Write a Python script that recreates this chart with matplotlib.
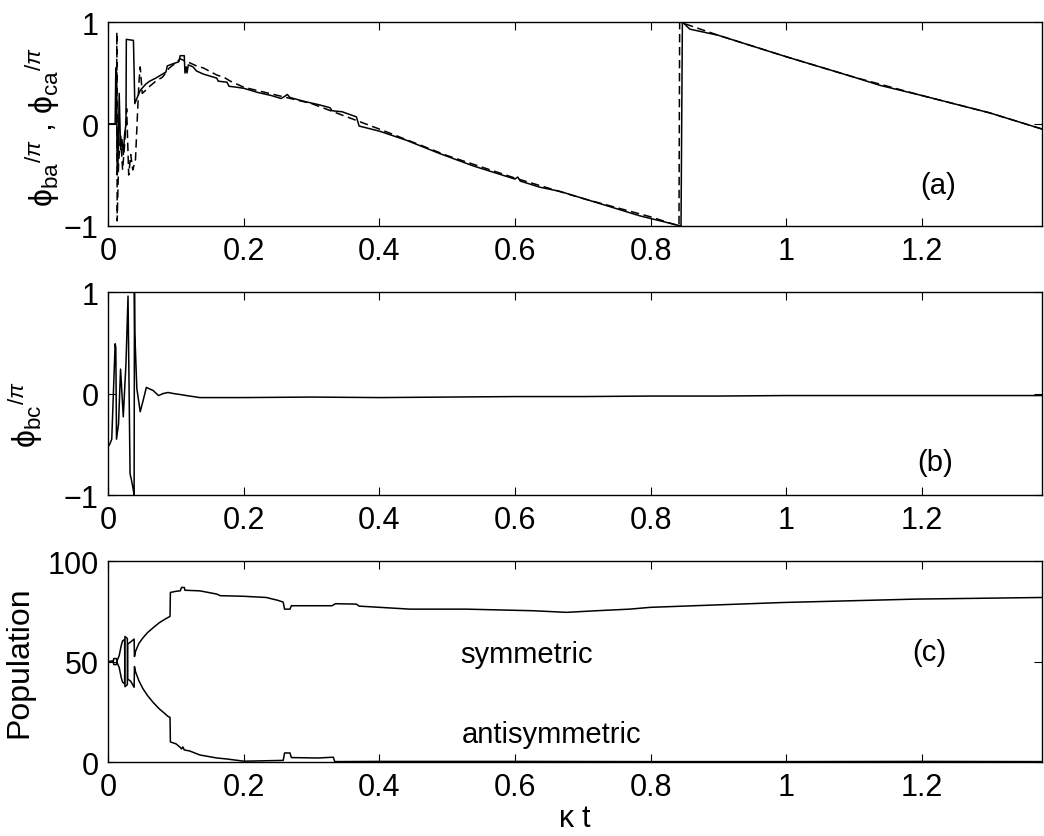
import matplotlib
matplotlib.use("Agg")
import matplotlib.pyplot as plt

plt.rcParams['font.family'] = ['Liberation Sans', 'DejaVu Sans']
plt.rcParams['mathtext.fontset'] = 'custom'
plt.rcParams['mathtext.rm'] = 'Liberation Sans'
plt.rcParams['mathtext.it'] = 'Liberation Sans:italic'
plt.rcParams['mathtext.sf'] = 'Liberation Sans'

# --- (a) relative phases phi_ba (solid) and phi_ca (dashed), in units of pi
t_ba = [0.0, 0.010, 0.011, 0.012, 0.013, 0.014, 0.016, 0.018, 0.020, 0.022,
        0.024, 0.026, 0.0265, 0.037, 0.039, 0.042, 0.047, 0.055, 0.061, 0.070,
        0.080, 0.085, 0.087, 0.095, 0.104, 0.106, 0.112, 0.113, 0.115, 0.116,
        0.118, 0.125, 0.130, 0.140, 0.150, 0.160, 0.162, 0.175, 0.178, 0.190,
        0.200, 0.220, 0.240, 0.255, 0.260, 0.264, 0.268, 0.290, 0.310, 0.327,
        0.330, 0.345, 0.366, 0.370, 0.400, 0.440, 0.489, 0.538, 0.600, 0.604,
        0.608, 0.637, 0.666, 0.735, 0.784, 0.845, 0.847, 0.858, 0.900, 1.000,
        1.100, 1.138, 1.200, 1.300, 1.378]
phi_ba = [0.0, 0.0, 0.55, 0.50, -0.50, -0.45, 0.30, -0.25, -0.15, -0.30,
          -0.10, 0.0, 0.83, 0.82, 0.20, 0.25, 0.33, 0.39, 0.42, 0.45,
          0.49, 0.51, 0.57, 0.59, 0.61, 0.67, 0.67, 0.50, 0.56, 0.50,
          0.58, 0.56, 0.52, 0.49, 0.47, 0.45, 0.42, 0.41, 0.37, 0.36,
          0.35, 0.31, 0.28, 0.25, 0.27, 0.29, 0.26, 0.22, 0.19, 0.16,
          0.13, 0.12, 0.07, -0.02, -0.07, -0.16, -0.29, -0.41, -0.54, -0.52,
          -0.56, -0.62, -0.66, -0.80, -0.90, -1.0, 1.0, 0.93, 0.87, 0.66,
          0.46, 0.38, 0.28, 0.11, -0.05]

t_ca = [0.0, 0.012, 0.0125, 0.013, 0.015, 0.018, 0.021, 0.024, 0.027, 0.030,
        0.033, 0.036, 0.040, 0.043, 0.045, 0.047, 0.050, 0.055, 0.061, 0.070,
        0.080, 0.090, 0.100, 0.106, 0.112, 0.120, 0.130, 0.140, 0.160, 0.170,
        0.180, 0.190, 0.200, 0.300, 0.400, 0.500, 0.600, 0.700, 0.800, 0.842,
        0.843, 0.900, 1.000, 1.100, 1.200, 1.300, 1.378]
phi_ca = [0.0, 0.0, 0.9, -0.95, -0.40, -0.10, -0.45, -0.20, 0.15, -0.50,
          -0.30, -0.45, -0.35, 0.10, 0.40, 0.56, 0.30, 0.33, 0.37, 0.42,
          0.46, 0.55, 0.60, 0.64, 0.62, 0.60, 0.57, 0.55, 0.48, 0.46,
          0.42, 0.39, 0.36, 0.20, -0.05, -0.31, -0.53, -0.73, -0.91, -1.0,
          1.0, 0.87, 0.66, 0.46, 0.28, 0.11, -0.05]

# --- (b) phi_bc / pi
t_bc = [0.0, 0.002, 0.005, 0.010, 0.011, 0.012, 0.015, 0.018, 0.022, 0.026,
        0.029, 0.032, 0.034, 0.036, 0.038, 0.0385, 0.039, 0.042, 0.047, 0.052,
        0.056, 0.066, 0.074, 0.081, 0.088, 0.096, 0.106, 0.115, 0.135, 0.165,
        0.200, 0.300, 0.400, 0.500, 0.600, 0.700, 0.800, 0.900, 1.000, 1.100,
        1.200, 1.300, 1.378]
phi_bc = [-0.52, -0.50, -0.45, 0.49, 0.45, -0.45, -0.30, 0.24, -0.23, 0.30,
          0.96, -0.79, -0.85, -0.92, -1.0, 1.0, 0.60, 0.05, -0.18, -0.05,
          0.06, 0.03, -0.02, 0.0, 0.01, 0.0, -0.01, -0.02, -0.04, -0.04,
          -0.04, -0.035, -0.04, -0.035, -0.03, -0.03, -0.025, -0.025, -0.02, -0.02,
          -0.02, -0.02, -0.02]

# --- (c) populations (%)
t_sym = [0.0, 0.007, 0.008, 0.012, 0.013, 0.016, 0.019, 0.021, 0.024, 0.0245,
         0.028, 0.0285, 0.033, 0.038, 0.0385, 0.040, 0.045, 0.051, 0.058, 0.066,
         0.075, 0.083, 0.091, 0.0915, 0.100, 0.106, 0.108, 0.112, 0.113, 0.135,
         0.160, 0.165, 0.200, 0.233, 0.250, 0.258, 0.260, 0.268, 0.270, 0.330,
         0.335, 0.366, 0.370, 0.445, 0.528, 0.627, 0.676, 0.720, 0.769, 0.800,
         0.995, 1.192, 1.378]
pop_sym = [50.0, 50.4, 48.5, 48.5, 50.5, 53.0, 58.0, 60.3, 61.0, 37.5,
           38.5, 58.7, 59.8, 61.2, 52.5, 55.0, 59.0, 61.8, 64.5, 66.8,
           69.3, 71.0, 72.5, 84.4, 85.0, 85.2, 86.9, 86.9, 85.5, 85.2,
           83.6, 82.8, 82.5, 81.9, 80.5, 79.6, 76.1, 76.1, 77.8, 77.8,
           78.8, 78.6, 77.6, 76.1, 76.1, 75.3, 74.5, 75.3, 76.1, 77.0,
           79.4, 81.1, 81.9]

t_anti = [0.0, 0.007, 0.008, 0.012, 0.013, 0.016, 0.019, 0.021, 0.024, 0.0245,
          0.028, 0.0285, 0.033, 0.038, 0.0385, 0.040, 0.045, 0.051, 0.058, 0.066,
          0.075, 0.083, 0.088, 0.091, 0.0915, 0.100, 0.106, 0.108, 0.110, 0.112,
          0.120, 0.135, 0.160, 0.175, 0.200, 0.258, 0.260, 0.268, 0.270, 0.310,
          0.332, 0.334, 0.400, 0.600, 0.800, 1.000, 1.200, 1.378]
pop_anti = [50.0, 49.6, 51.5, 51.5, 49.5, 47.0, 42.0, 39.7, 39.0, 62.5,
            61.5, 41.3, 40.2, 37.2, 47.5, 45.0, 40.5, 36.5, 33.0, 29.7,
            26.5, 24.2, 22.7, 22.2, 10.0, 9.0, 7.3, 6.5, 7.5, 6.0,
            5.5, 3.5, 2.0, 1.5, 0.4, 0.8, 4.5, 4.5, 2.2, 2.0,
            2.4, 0.2, 0.3, 0.3, 0.2, 0.2, 0.3, 0.2]

x_ticks = [0, 0.2, 0.4, 0.6, 0.8, 1.0, 1.2]
x_tick_labels = ['0', '0.2', '0.4', '0.6', '0.8', '1', '1.2']
t_max = 1.378

fig = plt.figure(figsize=(10.44, 8.37), dpi=100)
ax_a = fig.add_axes([0.1038, 0.7288, 0.8945, 0.2437])
ax_b = fig.add_axes([0.1038, 0.4074, 0.8945, 0.2425])
ax_c = fig.add_axes([0.1038, 0.0884, 0.8945, 0.2400])


def matlab_axes(ax, yticks, ylabels):
    ax.set_xlim(0, t_max)
    ax.set_xticks(x_ticks)
    ax.set_xticklabels(x_tick_labels)
    ax.set_yticks(yticks)
    ax.set_yticklabels(ylabels)
    ax.tick_params(direction='in', top=True, right=True, length=6,
                   width=0.8, labelsize=22, pad=7)
    for s in ax.spines.values():
        s.set_linewidth(1.0)


lw = 1.1

ax_a.plot(t_ba, phi_ba, color='k', lw=lw)
ax_a.plot(t_ca, phi_ca, color='k', lw=lw, ls=(0, (5.5, 3)))
ax_a.set_ylim(-1, 1)
matlab_axes(ax_a, [-1, 0, 1], ['\u22121', '0', '1'])
ax_a.set_ylabel(r'$\mathrm{\phi_{ba}}^{/\pi}$ , $\mathrm{\phi_{ca}}^{/\pi}$', fontsize=23)
ax_a.yaxis.set_label_coords(-0.050, 0.49)
ax_a.text(1.224, -0.60, '(a)', fontsize=21, ha='center', va='center')

ax_b.plot(t_bc, phi_bc, color='k', lw=lw)
ax_b.set_ylim(-1, 1)
matlab_axes(ax_b, [-1, 0, 1], ['\u22121', '0', '1'])
ax_b.set_ylabel(r'$\mathrm{\phi_{bc}}^{/\pi}$', fontsize=23)
ax_b.yaxis.set_label_coords(-0.068, 0.40)
ax_b.text(1.22, -0.67, '(b)', fontsize=21, ha='center', va='center')

ax_c.plot(t_sym, pop_sym, color='k', lw=lw)
ax_c.plot(t_anti, pop_anti, color='k', lw=lw)
ax_c.set_ylim(0, 100)
matlab_axes(ax_c, [0, 50, 100], ['0', '50', '100'])
ax_c.set_ylabel('Population', fontsize=23)
ax_c.yaxis.set_label_coords(-0.079, 0.5)
ax_c.set_xlabel(r'$\mathrm{\kappa}$ t', fontsize=22, labelpad=1)
ax_c.text(0.617, 53.7, 'symmetric', fontsize=21, ha='center', va='center')
ax_c.text(0.654, 13.9, 'antisymmetric', fontsize=21, ha='center', va='center')
ax_c.text(1.212, 54.7, '(c)', fontsize=21, ha='center', va='center')

fig.savefig('out.png', dpi=100)
